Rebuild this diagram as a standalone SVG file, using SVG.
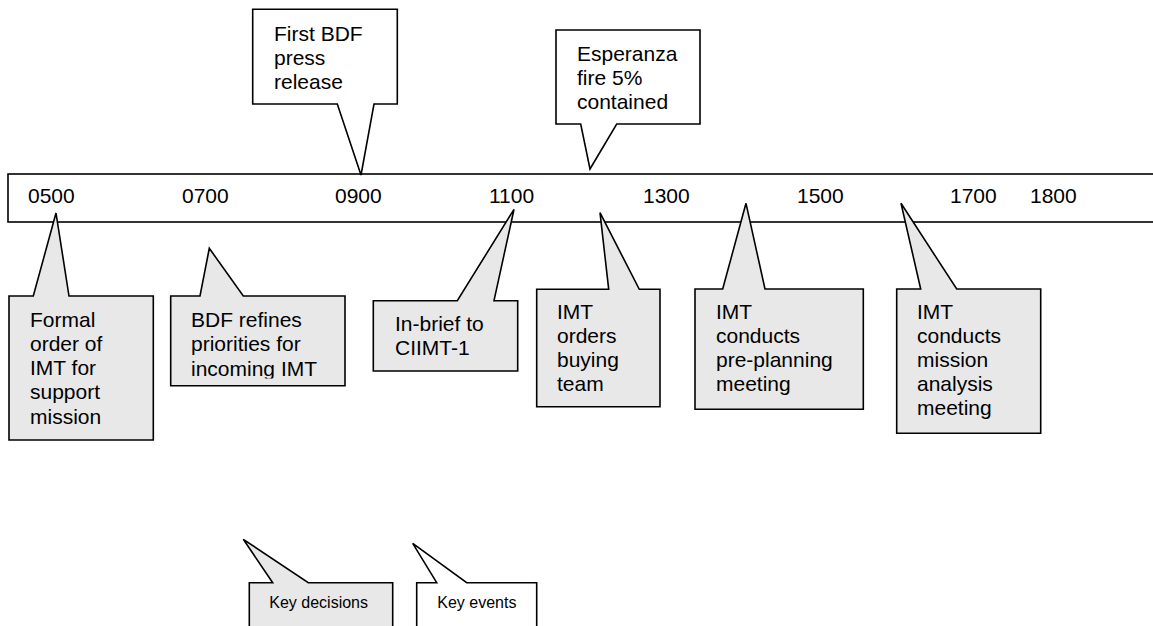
<svg xmlns="http://www.w3.org/2000/svg" width="1153" height="626" viewBox="0 0 1153 626">
<style>
  .co { stroke: #000; stroke-width: 1.6; stroke-linejoin: miter; }
  .white { fill: #ffffff; }
  .grey { fill: #e8e8e8; }
  text { font-family: "Liberation Sans", Arial, sans-serif; font-size: 21px; fill: #000; }
  .small { font-size: 16px; }
</style>
<defs>
  <clipPath id="clipB2"><rect x="170" y="296" width="176" height="82.6"/></clipPath>
</defs>
<rect width="1153" height="626" fill="#ffffff"/>

<g id="timeline">
  <rect x="8" y="174" width="1160" height="48" class="co white"/>
  <text x="28" y="203">0500</text>
  <text x="182" y="203">0700</text>
  <text x="335" y="203">0900</text>
  <text x="489" y="203">1100</text>
  <text x="643" y="203">1300</text>
  <text x="797" y="203">1500</text>
  <text x="950" y="203">1700</text>
  <text x="1030" y="203">1800</text>
</g>

<g id="connectors"></g>

<g id="event-press-release">
  <path class="co white" d="M252.7,9.3 H397.3 V104 H374 L361,175 L337.3,104 H252.7 Z"/>
  <text x="274" y="40.5">First BDF</text>
  <text x="274" y="64.5">press</text>
  <text x="274" y="88.5">release</text>
</g>

<g id="event-esperanza">
  <path class="co white" d="M556,30 H700 V124 H616.7 L590,169 L580.7,124 H556 Z"/>
  <text x="577" y="61">Esperanza</text>
  <text x="577" y="85">fire 5%</text>
  <text x="577" y="109">contained</text>
</g>

<g id="decision-formal-order">
  <path class="co grey" d="M9,296 H33.3 L56,213 L69,296 H153.3 V440 H9 Z"/>
  <text x="30" y="326.7">Formal</text>
  <text x="30" y="350.9">order of</text>
  <text x="30" y="375.1">IMT for</text>
  <text x="30" y="399.3">support</text>
  <text x="30" y="423.5">mission</text>
</g>

<g id="decision-bdf-refines">
  <path class="co grey" d="M170.7,296 H200 L209.3,248.3 L243.3,296 H345 V385.7 H170.7 Z"/>
  <g clip-path="url(#clipB2)">
    <text x="191" y="326.7">BDF refines</text>
    <text x="191" y="351.3">priorities for</text>
    <text x="191" y="375.9">incoming IMT</text>
  </g>
</g>

<g id="decision-in-brief">
  <path class="co grey" d="M373.3,300.7 H457.3 L514,209.3 L494,300.7 H517.7 V371 H373.3 Z"/>
  <text x="395" y="330.7">In-brief to</text>
  <text x="395" y="355">CIIMT-1</text>
</g>

<g id="decision-buying-team">
  <path class="co grey" d="M536.7,289.3 H608.7 L600,212.7 L639.3,289.3 H660 V406.7 H536.7 Z"/>
  <text x="557" y="319">IMT</text>
  <text x="557" y="343">orders</text>
  <text x="557" y="367">buying</text>
  <text x="557" y="391">team</text>
</g>

<g id="decision-pre-planning">
  <path class="co grey" d="M695,289 H722.7 L746,203.3 L765,289 H863.3 V409.3 H695 Z"/>
  <text x="716" y="319">IMT</text>
  <text x="716" y="343">conducts</text>
  <text x="716" y="367">pre-planning</text>
  <text x="716" y="391">meeting</text>
</g>

<g id="decision-mission-analysis">
  <path class="co grey" d="M896.7,289 H920.7 L901,203.3 L956.7,289 H1040.7 V433.3 H896.7 Z"/>
  <text x="917" y="319">IMT</text>
  <text x="917" y="343">conducts</text>
  <text x="917" y="367">mission</text>
  <text x="917" y="391">analysis</text>
  <text x="917" y="415">meeting</text>
</g>

<g id="legend-key-decisions">
  <path class="co grey" d="M249.3,582.7 H272.7 L243.3,539.3 L308.3,582.7 H392.7 V640 H249.3 Z"/>
  <text class="small" x="269.3" y="608.3">Key decisions</text>
</g>

<g id="legend-key-events">
  <path class="co white" d="M416.7,582.7 H436.7 L412.7,543.3 L466.7,582.7 H536.7 V640 H416.7 Z"/>
  <text class="small" x="437.3" y="608.3">Key events</text>
</g>
</svg>
